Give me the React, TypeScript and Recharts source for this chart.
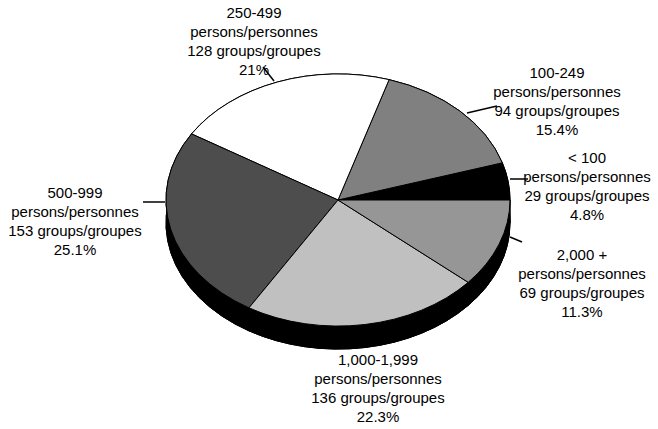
import { PieChart, Pie, Cell } from "recharts";

const sizeClasses = ["< 100", "100-249", "250-499", "500-999", "1,000-1,999", "2,000 +"];
const groupCounts = [29, 94, 128, 153, 136, 69];
const sharePct = ["4.8", "15.4", "21", "25.1", "22.3", "11.3"];

const sliceColors = ["#000000", "#808080", "#ffffff", "#4d4d4d", "#c0c0c0", "#969696"];

const CX = 338;
const CY = 200;
const RX = 172;
const TILT = 0.733; // vertical squash of the pie top
const DEPTH = 23;
const LINE_H = 19;

// label block spots (x, first baseline) and leader lines, relative to pie centre
const labelSpots = [
  [249, -37],
  [219, -122],
  [-84, -182],
  [-263, -2],
  [40, 165],
  [244, 60],
];
const leaders: (number[] | null)[] = [
  [172, -21, 190, -21],
  [129, -87, 159, -94],
  [-64, -119, -75, -133],
  [-195, 2, -173, 2],
  null,
  [172, 37, 184, 42],
];

const rows = sizeClasses.map((name, i) => ({
  name,
  groups: groupCounts[i],
  pct: sharePct[i],
}));

const RAD = Math.PI / 180;
const pt = (cx: number, cy: number, r: number, deg: number) => [
  cx + r * Math.cos(deg * RAD),
  cy - TILT * r * Math.sin(deg * RAD),
];

const TopSlice = (props: any) => {
  const { cx, cy, outerRadius: r, startAngle, endAngle, fill } = props;
  const [x1, y1] = pt(cx, cy, r, startAngle);
  const [x2, y2] = pt(cx, cy, r, endAngle);
  const large = Math.abs(endAngle - startAngle) > 180 ? 1 : 0;
  const d = `M${cx},${cy} L${x1},${y1} A${r},${r * TILT} 0 ${large} 0 ${x2},${y2} Z`;
  return <path d={d} fill={fill} stroke="#000" strokeWidth={1} strokeLinejoin="round" />;
};

const SideSlice = (props: any) => {
  const { cx, cy, outerRadius: r, startAngle, endAngle } = props;
  const [x1, y1] = pt(cx, cy, r, startAngle);
  const [x2, y2] = pt(cx, cy, r, endAngle);
  const large = Math.abs(endAngle - startAngle) > 180 ? 1 : 0;
  const ry = r * TILT;
  const wall =
    `M${x1},${y1} A${r},${ry} 0 ${large} 0 ${x2},${y2} ` +
    `L${x2},${y2 + DEPTH} A${r},${ry} 0 ${large} 1 ${x1},${y1 + DEPTH} Z`;
  const bottom =
    `M${cx},${cy + DEPTH} L${x1},${y1 + DEPTH} A${r},${ry} 0 ${large} 0 ${x2},${y2 + DEPTH} Z`;
  return (
    <g>
      <path d={bottom} fill="#000" stroke="#000" strokeWidth={1} />
      <path d={wall} fill="#000" stroke="#000" strokeWidth={1} />
    </g>
  );
};

const SliceLabel = (props: any) => {
  const { cx, cy, index } = props;
  const row = rows[index];
  const [dx, dy] = labelSpots[index];
  const lead = leaders[index];
  const lines = [row.name, "persons/personnes", `${row.groups} groups/groupes`, `${row.pct}%`];
  return (
    <g>
      {lead && (
        <line
          x1={cx + lead[0]}
          y1={cy + lead[1]}
          x2={cx + lead[2]}
          y2={cy + lead[3]}
          stroke="#000"
          strokeWidth={1.5}
        />
      )}
      <text
        x={cx + dx}
        y={cy + dy}
        textAnchor="middle"
        fill="#000"
        fontSize={15}
        fontFamily="'Liberation Sans', Arial, sans-serif"
      >
        {lines.map((t, j) => (
          <tspan key={j} x={cx + dx} dy={j === 0 ? 0 : LINE_H}>
            {t}
          </tspan>
        ))}
      </text>
    </g>
  );
};

export default function App() {
  return (
    <div style={{ position: "absolute", left: 0, top: 0, background: "#fff" }}>
      <PieChart width={658} height={429} margin={{ top: 0, right: 0, bottom: 0, left: 0 }}>
        <Pie
          data={rows}
          dataKey="groups"
          nameKey="name"
          cx={CX}
          cy={CY}
          outerRadius={RX}
          startAngle={0}
          endAngle={360}
          stroke="#000"
          shape={SideSlice}
          activeShape={SideSlice}
          inactiveShape={SideSlice}
          isAnimationActive={false}
          label={false}
          labelLine={false}
        >
          {rows.map((_, i) => (
            <Cell key={`side-${i}`} fill="#000" />
          ))}
        </Pie>
        <Pie
          data={rows}
          dataKey="groups"
          nameKey="name"
          cx={CX}
          cy={CY}
          outerRadius={RX}
          startAngle={0}
          endAngle={360}
          stroke="#000"
          shape={TopSlice}
          activeShape={TopSlice}
          inactiveShape={TopSlice}
          isAnimationActive={false}
          label={SliceLabel}
          labelLine={false}
        >
          {rows.map((_, i) => (
            <Cell key={`top-${i}`} fill={sliceColors[i]} />
          ))}
        </Pie>
      </PieChart>
    </div>
  );
}
